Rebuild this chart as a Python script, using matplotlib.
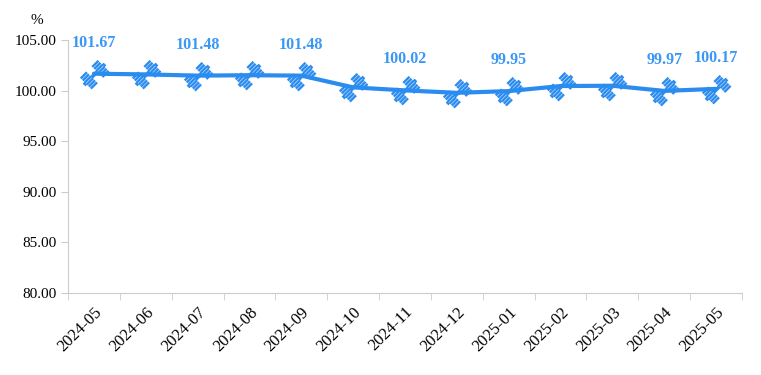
import numpy as np
import matplotlib.pyplot as plt
from matplotlib.path import Path
from matplotlib.transforms import Affine2D

months = ["2024-05", "2024-06", "2024-07", "2024-08", "2024-09", "2024-10", "2024-11",
          "2024-12", "2025-01", "2025-02", "2025-03", "2025-04", "2025-05"]
values = [101.67, 101.60, 101.48, 101.52, 101.48, 100.32, 100.02,
          99.78, 99.95, 100.45, 100.48, 99.97, 100.17]
show_label = [1, 0, 1, 0, 1, 0, 1, 0, 1, 0, 0, 1, 1]

yticks = [80, 85, 90, 95, 100, 105]

blue = '#2b8cf0'
label_blue = '#3a97f5'

plt.rcParams['font.family'] = ['Liberation Serif', 'DejaVu Serif']


# 哑铃形状的标记：一组矩形拼成，再旋转45度
def dumbbell():
    rects = [(-3.5, -1.6, 3.5, 1.6)]
    for side in (1, -1):
        # 杠铃片，带细白条纹
        for y0 in np.arange(-7.5, 7.5, 2.5):
            x0, x1 = sorted((side * 3.3, side * 11.0))
            rects.append((x0, y0, x1, y0 + 2.1))
        x0, x1 = sorted((side * 11.0, side * 13.0))
        rects.append((x0, -1.7, x1, 1.7))
    verts, codes = [], []
    for x0, y0, x1, y1 in rects:
        verts += [(x0, y0), (x1, y0), (x1, y1), (x0, y1), (x0, y0)]
        codes += [Path.MOVETO, Path.LINETO, Path.LINETO, Path.LINETO, Path.CLOSEPOLY]
    p = Path(verts, codes)
    return p.transformed(Affine2D().rotate_deg(45))


fig = plt.figure(figsize=(7.61, 3.75), dpi=100)
ax = fig.add_axes([68 / 761, 1 - 293 / 375, (742 - 68) / 761, (293 - 40) / 375])

x = np.arange(len(months))
ax.plot(x, values, color=blue, lw=3, solid_capstyle='round', zorder=2)
ax.plot(x, values, ls='none', marker=dumbbell(), ms=21.5, mfc=blue, mec=blue, mew=0, zorder=3)

for i, v in enumerate(values):
    if show_label[i]:
        ax.annotate(f"{v:.2f}", (i, v), xytext=(0, 31), textcoords='offset pixels',
                    ha='center', va='center', fontsize=11.5, fontweight='bold', color=label_blue)

ax.set_xlim(-0.5, len(months) - 0.5)
ax.set_ylim(80, 105)
ax.set_yticks(yticks)
ax.set_yticklabels([f"{t:.2f}" for t in yticks], fontsize=11)

ax.set_xticks(x)
ax.set_xticklabels(months, rotation=45, ha='right', rotation_mode='anchor', fontsize=12)
ax.set_xticks(np.arange(len(months) + 1) - 0.5, minor=True)
ax.tick_params(axis='x', which='major', length=0, pad=8)
ax.tick_params(axis='x', which='minor', length=5, color='#cccccc')
ax.tick_params(axis='y', length=5, color='#cccccc', pad=3)

for s in ['top', 'right']:
    ax.spines[s].set_visible(False)
for s in ['left', 'bottom']:
    ax.spines[s].set_color('#cccccc')

fig.text(37 / 761, 1 - 21 / 375, "%", ha='center', va='center', fontsize=11)

fig.savefig('out.png', dpi=100)
